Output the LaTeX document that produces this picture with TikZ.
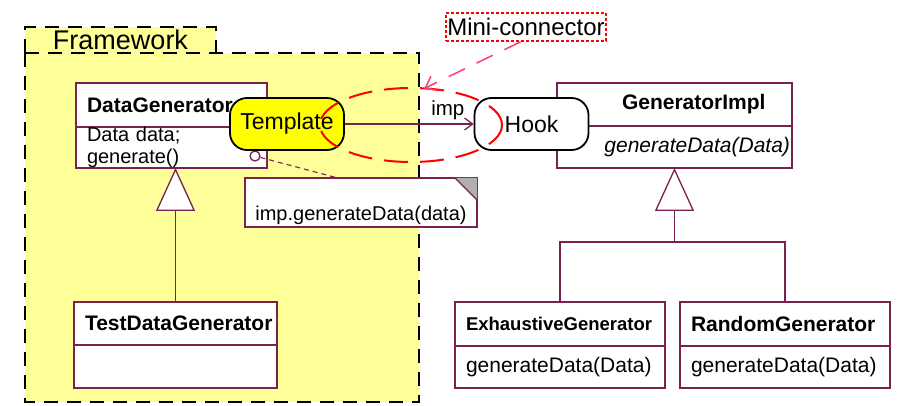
\documentclass[tikz,border=0pt]{standalone}
\usepackage{fontspec}
\setmainfont{Liberation Sans}
\usepackage{tikz}
\usetikzlibrary{arrows.meta,positioning,calc,shapes.geometric}
\definecolor{cLine}{HTML}{7B2150}
\definecolor{cPkg}{HTML}{FFFF99}
\definecolor{cTpl}{HTML}{FFFF00}
\definecolor{cRed}{HTML}{FF0000}
\definecolor{cPink}{HTML}{FF3C78}
\definecolor{cFold}{HTML}{B0B0B0}
\newcommand{\pxfont}[1]{\fontsize{#1}{22}\selectfont}
\tikzset{
  pkg/.style     = {fill=cPkg, outer sep=0pt, inner sep=0pt},
  pkgline/.style = {draw=black, line width=2pt, dash pattern=on 14pt off 9pt},
  clsbase/.style = {draw=cLine, fill=white, line width=1.3pt, outer sep=0pt,
                    inner xsep=11pt, inner ysep=0pt, align=left,
                    minimum width=#1pt, text width=#1pt-22pt},
  clshead/.style = {clsbase=#1, minimum height=44pt, font=\pxfont{21}\bfseries},
  clsbody/.style = {clsbase=#1, minimum height=42pt, font=\pxfont{21}},
  hot/.style     = {draw=black, line width=1.8pt, rounded corners=17pt,
                    minimum width=114pt, minimum height=52pt, inner sep=0pt,
                    font=\pxfont{23}},
  notebox/.style = {draw=cLine, fill=white, line width=1.3pt, outer sep=0pt,
                    inner xsep=10pt, inner ysep=4pt, minimum width=232pt,
                    text height=39pt, text depth=2pt, font=\pxfont{20}},
  genline/.style = {draw=cLine, line width=1.3pt},
  genflow/.style = {genline, -{Triangle[length=43pt,width=39pt,fill=white]}},
  implflow/.style = {draw=cLine, line width=1.3pt,
                     -{Straight Barb[length=8pt,width=12pt]}},
  pinkflow/.style = {draw=cPink, line width=1.5pt, dash pattern=on 18pt off 13pt,
                     -{Straight Barb[length=10pt,width=16pt]}},
}

\begin{document}
\begin{tikzpicture}[x=1pt,y=-1pt]
  \useasboundingbox (0,0) rectangle (908,406);
  % ---- framework package ----
  \node[pkg, anchor=north west, minimum width=394pt, minimum height=349pt]
    (fwb) at (25,53) {};
  \node[pkg, anchor=south west, minimum width=191pt, minimum height=26pt,
        font=\pxfont{27}] (fw) at (25,53) {Framework};
  \draw[pkgline] (fwb.north west) rectangle (fwb.south east);
  \draw[pkgline] (fw.south west) |- (fw.north east) -- (fw.south east);
  % ---- classes ----
  \node[clshead=191, anchor=north west] (dg) at (76,83) {DataGenerator};
  \node[clsbody=191, below=0pt of dg, minimum height=41pt, font=\pxfont{20}]
    (dgb) {Data data;\\ generate()};
  \node[clshead=203, anchor=north west, minimum height=43pt] (tdg) at (74,302)
    {TestDataGenerator};
  \node[clsbody=203, below=0pt of tdg, minimum height=43pt] (tdgb) {};
  \node[clshead=235, anchor=north west, minimum height=43pt] (gi) at (557,83)
    {\hspace*{54pt}GeneratorImpl};
  \node[clsbody=235, below=0pt of gi, text width=231pt, inner xsep=2pt,
        align=right, font=\pxfont{21}\itshape] (gib) {generateData(Data)};
  \node[clshead=210, anchor=north west, font=\pxfont{18.5}\bfseries] (eg)
    at (455,302) {ExhaustiveGenerator};
  \node[clsbody=210, below=0pt of eg] (egb) {generateData(Data)};
  \node[clshead=210, anchor=north west] (rg) at (680,302) {RandomGenerator};
  \node[clsbody=210, below=0pt of rg] (rgb) {generateData(Data)};
  % ---- generalizations ----
  \draw[genflow] (tdg.north) -- (tdg.north |- dgb.south);
  \coordinate (join) at ($(gib.south)+(0,74)$);
  \draw[genline] (eg.north) |- (join) -| (rg.north);
  \draw[genflow] (join) -- (gib.south);
  % ---- note on generate() ----
  \node[notebox, anchor=north west] (nt) at (245,178) {imp.generateData(data)};
  \fill[cFold] ($(nt.north east)+(-22,0)$) -- (nt.north east)
    -- ($(nt.north east)+(0,22)$) -- cycle;
  \draw[genline] ($(nt.north east)+(-22,0)$) -- ($(nt.north east)+(0,22)$);
  \node[circle, draw=cLine, fill=white, line width=1.3pt, minimum size=10pt,
        inner sep=0pt] (port) at (255,156) {};
  \draw[genline, line width=1.1pt, dash pattern=on 5pt off 4pt] (port)
    -- ($(nt.north west)!0.4!(nt.north east)$);
  % ---- template / hook ----
  \node[hot, fill=cTpl] (tpl) at (287,124) {Template};
  \node[hot, fill=white] (hook) at (531.5,124) {Hook};
  \draw[implflow] (tpl) -- node[above, pos=0.8, font=\pxfont{20.5}] {imp} (hook);
  % ---- mini-connector ----
  \node[ellipse, draw=cRed, line width=2pt, dash pattern=on 24pt off 12pt,
        minimum width=182pt, minimum height=74pt, inner sep=0pt,
        outer sep=0pt] (mc) at (411,125) {};
  \node[draw=cRed, line width=1.6pt, dash pattern=on 3pt off 2pt,
        minimum width=160pt, minimum height=28pt, inner sep=0pt,
        font=\pxfont{24}] (mini) at (526,27) {Mini-connector};
  \draw[pinkflow] (mini.250) -- (mc.70);
\end{tikzpicture}
\end{document}
